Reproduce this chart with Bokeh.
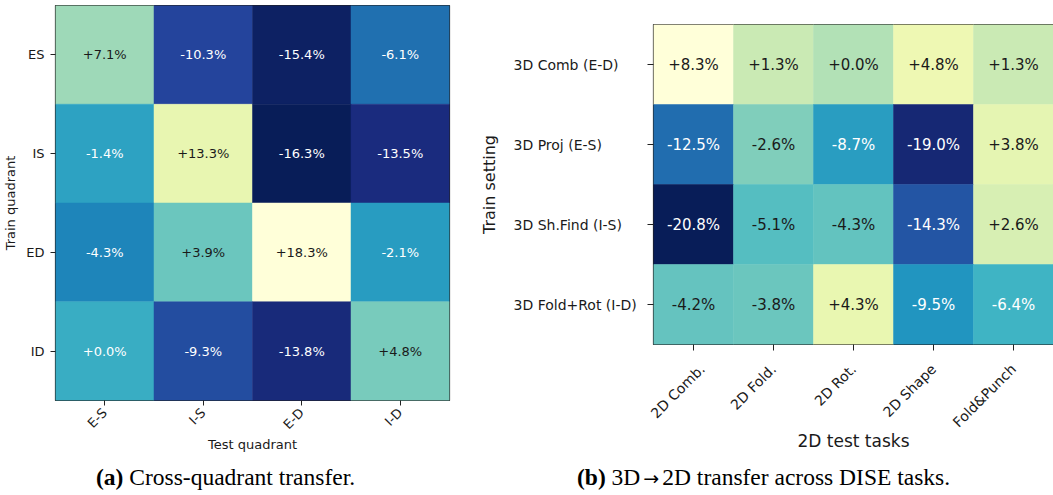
import math
import numpy as np
from bokeh.plotting import figure
from bokeh.layouts import row, column
from bokeh.models import (ColumnDataSource, LinearColorMapper, Range1d, FixedTicker, Div)
from bokeh.transform import transform
from bokeh.core.properties import value
from bokeh.embed import file_html
from bokeh.resources import INLINE

# ---------------- data ----------------
a_train = ["ES", "IS", "ED", "ID"]            # rows, top to bottom
a_test = ["E-S", "I-S", "E-D", "I-D"]         # columns
a_vals = [
    [7.1, -10.3, -15.4, -6.1],
    [-1.4, 13.3, -16.3, -13.5],
    [-4.3, 3.9, 18.3, -2.1],
    [0.0, -9.3, -13.8, 4.8],
]
b_train = ["3D Comb (E-D)", "3D Proj (E-S)", "3D Sh.Find (I-S)", "3D Fold+Rot (I-D)"]
b_test = ["2D Comb.", "2D Fold.", "2D Rot.", "2D Shape", "Fold&Punch"]
b_vals = [
    [8.3, 1.3, 0.0, 4.8, 1.3],
    [-12.5, -2.6, -8.7, -19.0, 3.8],
    [-20.8, -5.1, -4.3, -14.3, 2.6],
    [-4.2, -3.8, 4.3, -9.5, -6.4],
]
caption_a = ("(a)", "Cross-quadrant transfer.")
caption_b = ("(b)", "3D", "\u2192", "2D transfer across DISE tasks.")

ylgnbu9 = ["#081d58", "#253494", "#225ea8", "#1d91c0", "#41b6c4",
           "#7fcdbb", "#c7e9b4", "#edf8b1", "#ffffd9"]


def interp_palette(colors, n=256):
    rgb = np.array([[int(c[i:i + 2], 16) for i in (1, 3, 5)] for c in colors], float)
    pos = np.linspace(0, 1, len(colors))
    out = []
    for tt in np.linspace(0, 1, n):
        r, g, b = (np.interp(tt, pos, rgb[:, k]) for k in range(3))
        out.append("#%02x%02x%02x" % (int(round(r)), int(round(g)), int(round(b))))
    return out


PAL = interp_palette(ylgnbu9)
SANS = "DejaVu Sans"
SERIF = "Liberation Serif"
INK = "#1a1a1a"


def heat_source(rows, cols, vals, ycoord):
    flat = [v for r in vals for v in r]
    vmin, vmax = min(flat), max(flat)
    xs, ys, vs, txt, tc = [], [], [], [], []
    for i, _ in enumerate(rows):
        for j, cname in enumerate(cols):
            v = vals[i][j]
            xs.append(cname); ys.append(ycoord[i]); vs.append(v)
            txt.append(f"{v:+.1f}%")
            tc.append("white" if (v - vmin) / (vmax - vmin) < 0.5 else INK)
    return ColumnDataSource(dict(x=xs, y=ys, v=vs, t=txt, tc=tc)), vmin, vmax


def style(p, tick_fs, tick_out):
    p.grid.visible = False
    p.outline_line_color = "#222222"
    p.outline_line_width = 1.2
    p.title.visible = False
    for ax in (p.xaxis[0], p.yaxis[0]):
        ax.axis_line_color = None
        ax.major_tick_in = 0
        ax.major_tick_out = tick_out
        ax.major_tick_line_color = "#222222"
        ax.minor_tick_line_color = None
        ax.major_label_text_font = SANS
        ax.major_label_text_font_size = tick_fs
        ax.major_label_text_color = INK
        ax.axis_label_text_font = SANS
        ax.axis_label_text_font_style = "normal"
        ax.axis_label_text_color = INK


# ---------------- panel (a) ----------------
src_a, amin, amax = heat_source(a_train, a_test, a_vals, a_train)
map_a = LinearColorMapper(palette=PAL, low=amin, high=amax)
pa = figure(x_range=a_test, y_range=list(reversed(a_train)),
            frame_width=394, frame_height=395,
            min_border_left=54, min_border_right=12, min_border_top=5, min_border_bottom=66,
            output_backend="svg", toolbar_location=None, tools="")
pa.rect(x="x", y="y", width=1, height=1, source=src_a,
        fill_color=transform("v", map_a), line_color=transform("v", map_a), line_width=0.5)
pa.text(x="x", y="y", text="t", source=src_a, text_color="tc",
        text_align="center", text_baseline="middle",
        text_font=value(SANS), text_font_size="13px")
style(pa, "13px", 5)
pa.xaxis.axis_label = "Test quadrant"
pa.yaxis.axis_label = "Train quadrant"
pa.xaxis.axis_label_text_font_size = "13px"
pa.yaxis.axis_label_text_font_size = "13px"
pa.xaxis.major_label_orientation = math.pi / 4
pa.yaxis.major_label_standoff = 6
pa.yaxis.axis_label_standoff = 5
pa.xaxis.axis_label_standoff = -3

# ---------------- panel (b) ----------------
nb = len(b_train)
b_y = [nb - i - 0.5 for i in range(nb)]       # row centres, first row on top
b_yrange = Range1d(0, nb)
src_b, bmin, bmax = heat_source(b_train, b_test, b_vals, b_y)
map_b = LinearColorMapper(palette=PAL, low=bmin, high=bmax)

# left-aligned row labels of panel (b) live in their own narrow figure
pm = figure(x_range=Range1d(0, 1), y_range=b_yrange,
            frame_width=134, frame_height=320,
            min_border_left=52, min_border_right=0, min_border_top=24, min_border_bottom=122,
            output_backend="svg", toolbar_location=None, tools="")
pm.grid.visible = False
pm.outline_line_color = None
pm.title.visible = False
pm.xaxis.visible = False
pm.yaxis.ticker = FixedTicker(ticks=[])
pm.yaxis.axis_line_color = None
pm.yaxis.major_tick_line_color = None
pm.yaxis.minor_tick_line_color = None
pm.yaxis.axis_label = "Train setting"
pm.yaxis.axis_label_text_font = SANS
pm.yaxis.axis_label_text_font_style = "normal"
pm.yaxis.axis_label_text_font_size = "16px"
pm.yaxis.axis_label_text_color = INK
pm.yaxis.axis_label_standoff = 15
lab_src = ColumnDataSource(dict(x=[0] * nb, y=b_y, t=b_train))
pm.text(x="x", y="y", text="t", source=lab_src, text_align="left", text_baseline="middle",
        text_font=value(SANS), text_font_size="14px", text_color=INK)

pb = figure(x_range=b_test, y_range=b_yrange,
            frame_width=400, frame_height=320,
            min_border_left=6, min_border_right=1, min_border_top=24, min_border_bottom=122,
            output_backend="svg", toolbar_location=None, tools="")
pb.rect(x="x", y="y", width=1, height=1, source=src_b,
        fill_color=transform("v", map_b), line_color=transform("v", map_b), line_width=0.5)
pb.text(x="x", y="y", text="t", source=src_b, text_color="tc",
        text_align="center", text_baseline="middle",
        text_font=value(SANS), text_font_size="15px")
style(pb, "14px", 6)
pb.xaxis.axis_label = "2D test tasks"
pb.xaxis.axis_label_text_font_size = "17px"
pb.xaxis.major_label_orientation = math.pi / 4
pb.xaxis.major_label_standoff = 16
pb.xaxis.axis_label_standoff = -8
pb.yaxis.ticker = FixedTicker(ticks=b_y)
pb.yaxis.major_label_overrides = {y: "" for y in b_y}
pb.yaxis.major_label_standoff = 0

# ---------------- captions ----------------
cap_style = {"font-family": SERIF, "font-size": "23.5px", "line-height": "1",
             "color": "black", "white-space": "nowrap"}
arrow = (f"<span style=\"font-family:'DejaVu Sans';font-size:19px;margin:0 3px\">"
         f"{caption_b[2]}</span>")
div_a = Div(text=f"<b>{caption_a[0]}</b> {caption_a[1]}", width=460, height=29,
            margin=(0, 0, 0, 0), styles=dict(cap_style, **{"padding-left": "96px"}))
div_b = Div(text=f"<b>{caption_b[0]}</b> {caption_b[1]}{arrow}{caption_b[3]}",
            width=593, height=29,
            margin=(0, 0, 0, 0), styles=dict(cap_style, **{"padding-left": "117px"}))

layout = column(row(column(pa), row(pm, pb)), row(div_a, div_b))
open("out.html", "w").write(file_html(layout, INLINE))
